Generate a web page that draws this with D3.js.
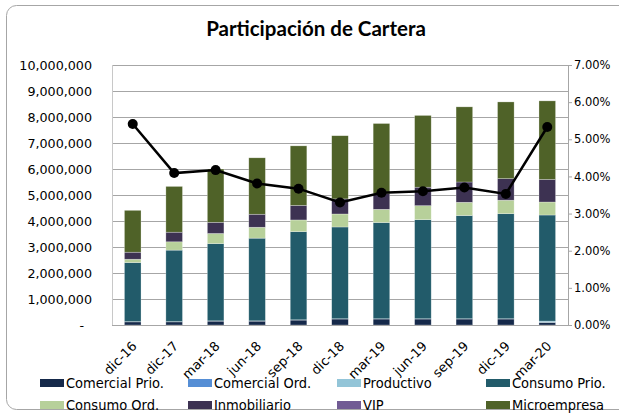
<!DOCTYPE html>
<html><head><meta charset="utf-8">
<script src="https://cdn.jsdelivr.net/npm/d3@7"></script>
<style>body{margin:0;background:#fff}svg{display:block}</style>
</head><body>
<script>
const categories = ["dic-16","dic-17","mar-18","jun-18","sep-18","dic-18","mar-19","jun-19","sep-19","dic-19","mar-20"];
const comercialPrio = [120000,120000,150000,150000,190000,230000,230000,230000,230000,230000,100000];
const comercialOrd  = [0,0,0,0,0,0,0,0,0,0,0];
const productivo    = [10000,10000,10000,10000,10000,10000,10000,10000,10000,10000,50000];
const consumoPrio   = [2270000,2750000,2970000,3180000,3390000,3530000,3700000,3810000,3970000,4040000,4080000];
const consumoOrd    = [130000,320000,390000,420000,450000,500000,510000,540000,510000,520000,500000];
const inmobiliario  = [270000,370000,430000,500000,560000,580000,600000,710000,780000,830000,870000];
const vip           = [0,0,0,0,0,0,0,0,0,0,0];
const microempresa  = [1610000,1760000,2050000,2170000,2290000,2430000,2700000,2760000,2890000,2950000,3020000];
const participacion = [5.41,4.09,4.17,3.81,3.67,3.30,3.56,3.60,3.70,3.53,5.33];
const seriesNames = ["Comercial Prio.","Comercial Ord.","Productivo","Consumo Prio.","Consumo Ord.","Inmobiliario","VIP","Microempresa"];
const seriesValues = [comercialPrio,comercialOrd,productivo,consumoPrio,consumoOrd,inmobiliario,vip,microempresa];
const seriesColors = ["#15294a","#558ed5","#93c5d8","#225b6a","#b7d09a","#3d3252","#715b94","#4f6228"];
const leftTicks = [0,1000000,2000000,3000000,4000000,5000000,6000000,7000000,8000000,9000000,10000000];
const rightTicks = [0,1,2,3,4,5,6,7];
const title = "Participación de Cartera";

const W=619,H=414;
const svg=d3.select("body").append("svg").attr("width",W).attr("height",H);
svg.append("rect").attr("x",6.5).attr("y",5.5).attr("width",640).attr("height",404).attr("rx",10)
  .attr("fill","#fff").attr("stroke","#a6a6a6");

const L=112,R=568,T=65,B=325;
const x=d3.scaleBand().domain(categories).range([L,R]).paddingInner(0.6).paddingOuter(0.3);
const y=d3.scaleLinear().domain([0,10000000]).range([B,T]);
const y2=d3.scaleLinear().domain([0,7]).range([B,T]);

svg.append("text").attr("x",316).attr("y",36).attr("text-anchor","middle")
  .style("font-family","Lato, 'Open Sans', sans-serif").style("font-weight","bold").style("font-size","20.5px")
  .attr("fill","#000").text(title);

// gridlines
svg.append("g").selectAll("line").data(leftTicks.slice(1)).join("line")
  .attr("x1",L).attr("x2",R).attr("y1",d=>Math.round(y(d))+0.5).attr("y2",d=>Math.round(y(d))+0.5)
  .attr("stroke","#a6a6a6").attr("stroke-width",1);
svg.append("line").attr("x1",L+0.5).attr("x2",L+0.5).attr("y1",T).attr("y2",B).attr("stroke","#c8c8c8");

// left axis
const ga=svg.append("g").attr("transform",`translate(${L},0)`)
  .call(d3.axisLeft(y).tickValues(leftTicks).tickSize(0).tickPadding(20)
    .tickFormat(d=>d===0?"-":d3.format(",")(d)));
ga.select(".domain").remove();
ga.selectAll("text").style("font-family","'DejaVu Sans', sans-serif").style("font-size","12.7px").attr("fill","#000");
ga.selectAll("text").filter(d=>d===0).attr("dx",-8);

// stacked bars
const rows=categories.map((c,i)=>{const o={cat:c};seriesNames.forEach((n,j)=>o[n]=seriesValues[j][i]);return o;});
const stack=d3.stack().keys(seriesNames)(rows);
svg.append("g").selectAll("g").data(stack).join("g").attr("fill",(d,i)=>seriesColors[i])
  .selectAll("rect").data(d=>d).join("rect")
  .attr("x",d=>x(d.data.cat)).attr("width",x.bandwidth())
  .attr("y",d=>y(d[1])).attr("height",d=>Math.max(0,y(d[0])-y(d[1])))
  .attr("stroke",d=>(d[1]-d[0])>0?"rgba(255,255,255,0.45)":"none").attr("stroke-width",0.6);

// bottom axis
svg.append("line").attr("x1",L).attr("x2",R).attr("y1",B+0.5).attr("y2",B+0.5).attr("stroke","#a6a6a6");
svg.append("g").selectAll("text").data(categories).join("text")
  .attr("transform",d=>`translate(${x(d)+x.bandwidth()/2+5},347) rotate(-45)`)
  .attr("text-anchor","end").style("font-family","'DejaVu Sans', sans-serif").style("font-size","13px")
  .attr("fill","#000").text(d=>d);

// right axis
const gr=svg.append("g").attr("transform",`translate(${R},0)`)
  .call(d3.axisRight(y2).tickValues(rightTicks).tickSize(4).tickPadding(2).tickFormat(d=>d3.format(".2f")(d)+"%"));
gr.select(".domain").attr("stroke","#a6a6a6");
gr.selectAll("line").attr("stroke","#a6a6a6");
gr.selectAll("text").style("font-family","'DejaVu Sans', sans-serif").style("font-size","11.5px").attr("fill","#000");

// line
const cx=(d,i)=>x(categories[i])+x.bandwidth()/2;
svg.append("path").datum(participacion)
  .attr("d",d3.line().x((d,i)=>cx(d,i)).y(d=>y2(d)))
  .attr("fill","none").attr("stroke","#000").attr("stroke-width",2.5);
svg.append("g").selectAll("circle").data(participacion).join("circle")
  .attr("cx",(d,i)=>cx(d,i)).attr("cy",d=>y2(d)).attr("r",5).attr("fill","#000");

// legend
const lgX=[40,188,337,486], lgY=[383,405];
const lg=svg.append("g").selectAll("g").data(seriesNames).join("g")
  .attr("transform",(d,i)=>`translate(${lgX[i%4]},${lgY[Math.floor(i/4)]})`);
lg.append("rect").attr("x",0).attr("y",-4).attr("width",24).attr("height",8).attr("fill",(d,i)=>seriesColors[i]);
lg.append("text").attr("x",26).attr("y",0).attr("dy","0.36em")
  .style("font-family","'DejaVu Sans Condensed','DejaVu Sans',sans-serif").style("font-size","14.5px")
  .attr("fill","#000").text(d=>d);
</script>
</body></html>
